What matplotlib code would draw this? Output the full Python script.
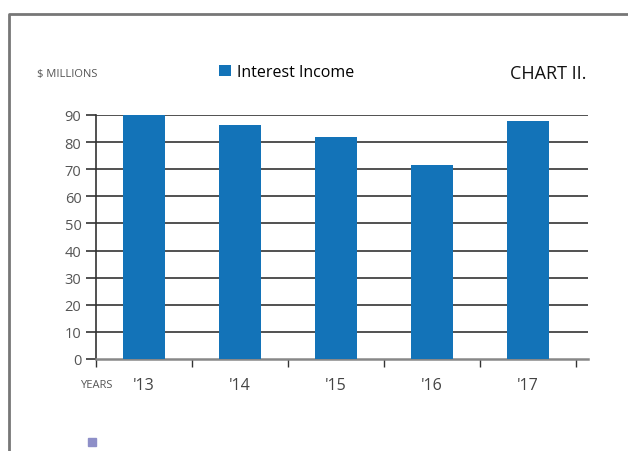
import matplotlib
matplotlib.use("Agg")
import matplotlib.pyplot as plt
from matplotlib.lines import Line2D
from matplotlib.patches import Rectangle

years = ["'13", "'14", "'15", "'16", "'17"]
interest_income = [90.0, 86.3, 81.9, 71.6, 87.8]
y_ticks = [0, 10, 20, 30, 40, 50, 60, 70, 80, 90]
series_name = "Interest Income"

W, H = 628, 452
fig = plt.figure(figsize=(W / 100, H / 100), dpi=100)
plt.rcParams['font.family'] = ['Open Sans', 'DejaVu Sans']

def fx(px):
    return px / W

def fy(py):
    return 1 - py / H

ax = fig.add_axes([fx(96), fy(360), fx(588) - fx(96), fy(116) - fy(360)])
bar_color = '#1373b8'
xs = list(range(len(years)))
bars = ax.bar(xs, interest_income, width=0.43, color=bar_color, zorder=3, label=series_name)

ax.set_xlim(-0.5, 4.625)
ax.set_ylim(0, 90)

for v in y_ticks[1:]:
    ax.axhline(v, color='#333333', lw=1.2, zorder=1)

ax.set_yticks(y_ticks)
ax.set_yticklabels([str(v) for v in y_ticks], fontsize=10.5, color='#555555')
ax.tick_params(axis='y', length=7.5, width=1.2, color='#333333', pad=3)

ax.set_xticks([i - 0.5 for i in range(len(years) + 1)])
ax.set_xticklabels([])
ax.tick_params(axis='x', which='major', length=6, width=1, color='#333333', direction='out')
ax.set_xticks(xs, minor=True)
ax.set_xticklabels(years, minor=True, fontsize=11.5, color='#444444')
ax.tick_params(axis='x', which='minor', length=0, pad=13)

for s in ['top', 'right']:
    ax.spines[s].set_visible(False)
ax.spines['left'].set_color('#333333')
ax.spines['left'].set_linewidth(1.2)
ax.spines['bottom'].set_color('#888888')
ax.spines['bottom'].set_linewidth(1.8)
ax.set_facecolor('none')

# Texts
fig.text(fx(37), fy(74), "$ MILLIONS", fontsize=8, color='#555555', va='center', ha='left')
fig.text(fx(80), fy(385), "YEARS", fontsize=8, color='#555555', va='center', ha='left')
fig.text(fx(586), fy(74), "CHART II.", fontsize=13, color='#111111', va='center', ha='right')

fig.legend(handles=[bars], labels=[series_name], loc='center left',
           bbox_to_anchor=(fx(211), fy(73)), frameon=False, fontsize=11.5,
           handlelength=0.75, handleheight=0.75, handletextpad=0.4, borderpad=0)

# Frame
fig.add_artist(Line2D([fx(9), fx(9), 1.0], [0.0, fy(15), fy(15)], color='#777777', lw=2,
                      transform=fig.transFigure))
fig.add_artist(Rectangle((fx(88), fy(447)), fx(8), 8 / H, color='#8e8fc8',
                         transform=fig.transFigure))

fig.savefig("out.png", dpi=100)
